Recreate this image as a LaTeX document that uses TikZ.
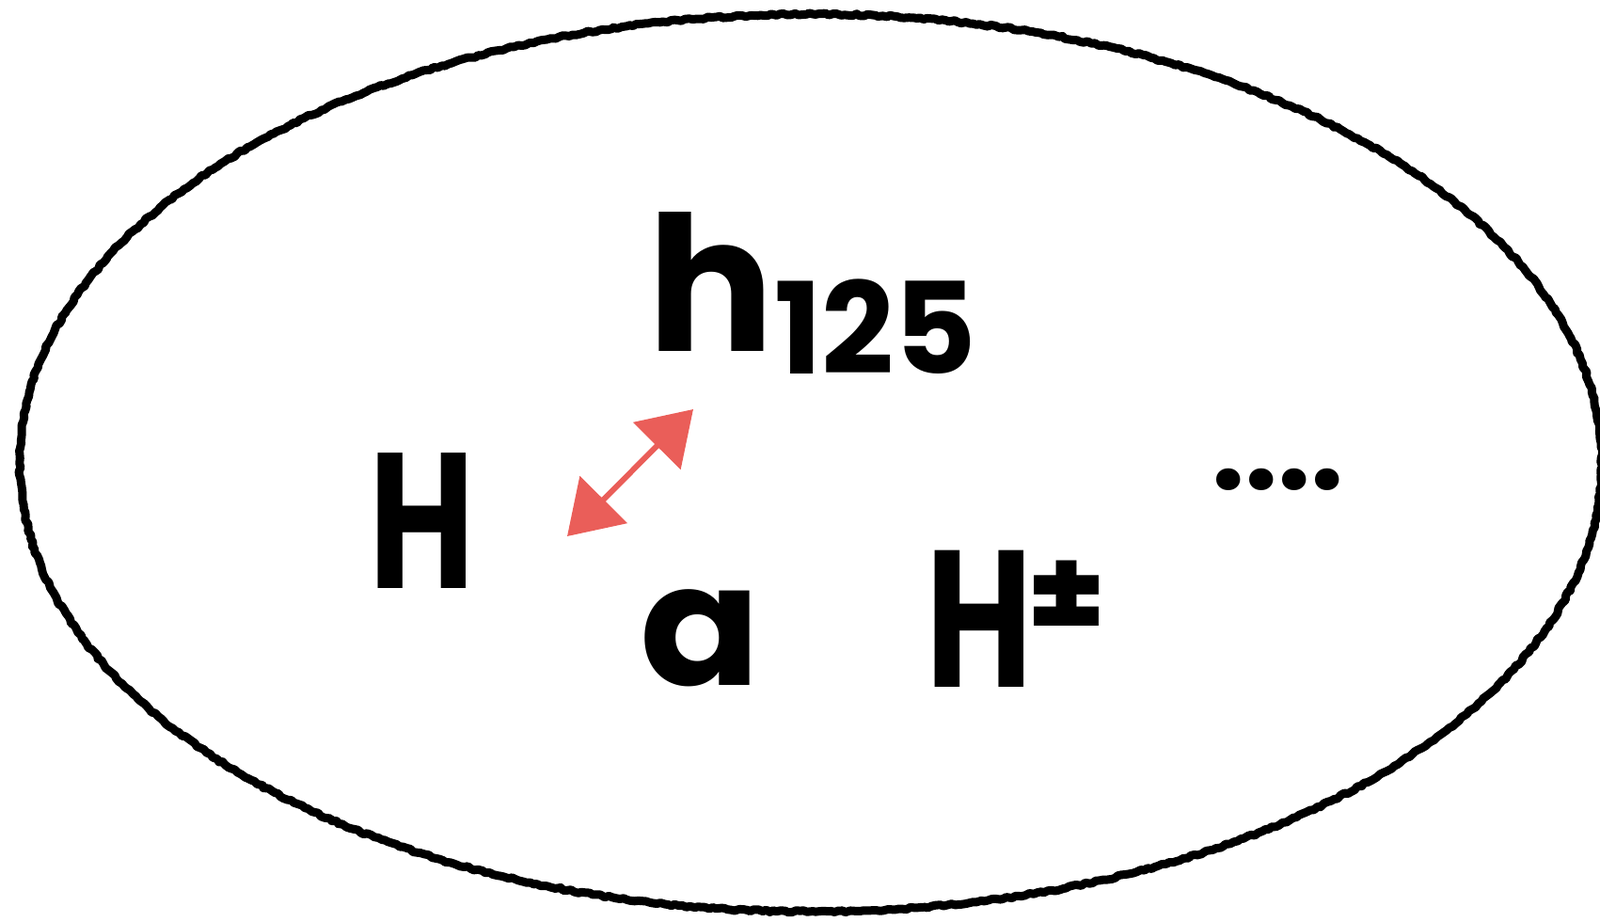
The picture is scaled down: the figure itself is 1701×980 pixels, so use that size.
\documentclass[tikz,border=0pt]{standalone}
\usepackage{fontspec}
\setmainfont{Poppins}[UprightFont=* Bold]
\usetikzlibrary{arrows.meta,decorations.pathmorphing}
\definecolor{sketchred}{RGB}{234,94,89}
\tikzset{
  hand/.style={decorate,decoration={random steps,segment length=4pt,amplitude=1.2pt}},
  sym/.style={inner sep=0pt,anchor=base west,text=black},
}
\begin{document}
\begin{tikzpicture}[x=1pt,y=-1pt]
\useasboundingbox (0,0) rectangle (1701,980);
\draw[line width=9pt,hand,line join=round] (862,492) ellipse [x radius=841,y radius=477];
\node[sym] (h) at (688,373) {\fontsize{200}{200}\selectfont h\raisebox{-24pt}{\fontsize{135}{135}\selectfont 125}};
\node[sym] (H) at (392,625) {\fontsize{205}{205}\selectfont\scalebox{0.75}[1]{H}};
\node[sym] (a) at (680,728) {\fontsize{180}{180}\selectfont\scalebox{1.05}[1]{a}};
\node[sym] (Hpm) at (984,730) {\fontsize{207}{207}\selectfont\scalebox{0.75}[1]{H}\hspace{-6pt}\raisebox{50pt}{\fontsize{135}{135}\selectfont ±}};
\node[sym] (dots) at (1288,520) {\fontsize{125}{125}\selectfont ....};
\coordinate (arA) at (603,570);
\coordinate (arB) at (737,435);
\draw[sketchred,line width=6pt,{Triangle[length=55pt,width=70pt]}-{Triangle[length=55pt,width=70pt]}] (arA) -- (arB);
\end{tikzpicture}
\end{document}
